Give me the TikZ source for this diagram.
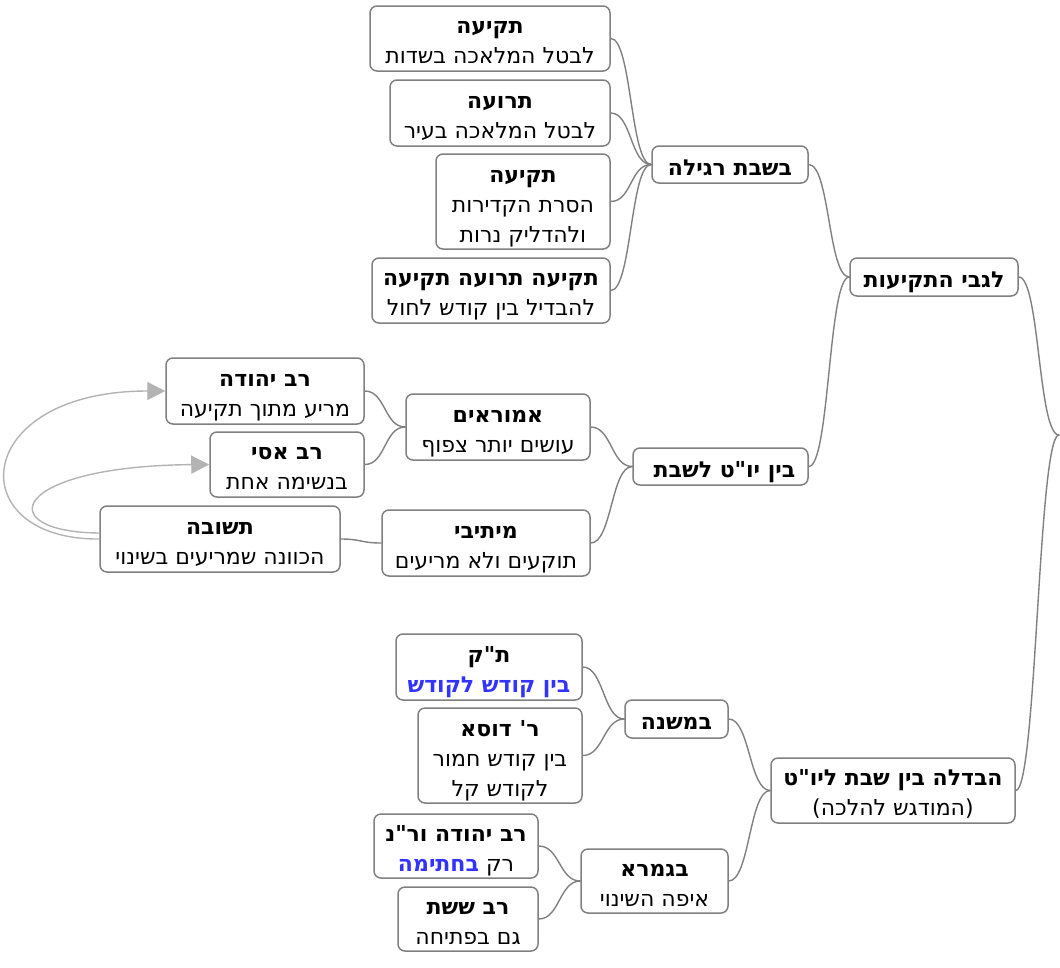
\documentclass[tikz,border=0pt]{standalone}
\usepackage{fontspec}
\newfontfamily\hebfont[Script=Hebrew,Ligatures=TeXOff]{DejaVu Sans}
\TeXXeTstate=1
\usetikzlibrary{arrows.meta}
\definecolor{linegray}{HTML}{808080}
\definecolor{backgray}{HTML}{B3B3B3}
\definecolor{textblue}{HTML}{3333FF}
\newcommand\rl[1]{\beginR#1\endR}
\newcommand\hd[1]{\textbf{\beginR#1\endR}}
\tikzset{
  topic/.style={draw=linegray, line width=1.5pt, rounded corners=7pt, fill=white,
    align=center, inner sep=0pt, font={\hebfont\fontsize{22}{30}\selectfont},
    text depth=0pt, text height=50pt},
  oneline/.style={text height=21pt},
  threeline/.style={text height=81pt},
  link/.style={draw=linegray, line width=1.4pt,
    to path={.. controls +(21,0) and +(-21,0) .. (\tikztotarget)}},
  backref/.style={draw=backgray, line width=1.4pt, -{Triangle[length=18pt,width=18pt]}}
}
\begin{document}
\begin{tikzpicture}[x=1pt,y=-1pt,line cap=round,line join=round]
  \useasboundingbox (0,0) rectangle (1060,967);
  % first branch
  \node[topic, minimum width=240, minimum height=65] (tqia) at (490,38.5) {\hd{תקיעה}\\\rl{לבטל המלאכה בשדות}};
  \node[topic, minimum width=220, minimum height=66] (trua) at (500,113) {\hd{תרועה}\\\rl{לבטל המלאכה בעיר}};
  \node[topic, threeline, minimum width=174, minimum height=95] (kdeirot) at (523,201.5) {\hd{תקיעה}\\\rl{הסרת הקדירות}\\\rl{ולהדליק נרות}};
  \node[topic, minimum width=238, minimum height=65] (lehavdil) at (491,290.5) {\hd{תקיעה תרועה תקיעה}\\\rl{להבדיל בין קודש לחול}};
  \node[topic, oneline, minimum width=156, minimum height=37] (regila) at (730,164.5) {\hd{בשבת רגילה}};
  \node[topic, oneline, minimum width=175, minimum height=37] (yomtov) at (720.5,466.5) {\hspace{8pt}\hd{בין יו"ט לשבת}};
  \node[topic, oneline, minimum width=168, minimum height=38] (tqiot) at (934,277) {\hd{לגבי התקיעות}};
  % amoraim
  \node[topic, minimum width=184, minimum height=66] (amoraim) at (498,427) {\hd{אמוראים}\\\rl{עושים יותר צפוף}};
  \node[topic, minimum width=208, minimum height=66] (meitivei) at (486,543) {\hd{מיתיבי}\\\rl{תוקעים ולא מריעים}};
  \node[topic, minimum width=198, minimum height=66] (ravyehuda) at (265,391) {\hd{רב יהודה}\\\rl{מריע מתוך תקיעה}};
  \node[topic, minimum width=154, minimum height=65] (ravasi) at (287,464.5) {\hd{רב אסי}\\\rl{בנשימה אחת}};
  \node[topic, minimum width=240, minimum height=66] (tshuva) at (220,539) {\hd{תשובה}\\\rl{הכוונה שמריעים בשינוי}};
  % havdala
  \node[topic, minimum width=244, minimum height=65] (havdala) at (893,790.5) {\hd{הבדלה בין שבת ליו"ט}\\\rl{(המודגש להלכה)}};
  \node[topic, oneline, minimum width=103, minimum height=38] (mishna) at (676.5,719) {\hd{במשנה}};
  \node[topic, minimum width=147, minimum height=64] (gemara) at (654.5,881) {\hd{בגמרא}\\\rl{איפה השינוי}};
  \node[topic, minimum width=186, minimum height=66] (tk) at (489,667) {\hd{ת"ק}\\{\color{textblue}\hd{בין קודש לקודש}}};
  \node[topic, threeline, minimum width=164, minimum height=95] (dosa) at (500,755.5) {\hd{ר' דוסא}\\\rl{בין קודש חמור}\\\rl{לקודש קל}};
  \node[topic, minimum width=164, minimum height=64] (ravnachman) at (456,846) {\hd{רב יהודה ור"נ}\\{\color{textblue}\hd{בחתימה}} \rl{רק}};
  \node[topic, minimum width=140, minimum height=64] (sheshet) at (468,919) {\hd{רב ששת}\\\rl{גם בפתיחה}};
  \coordinate (root) at (1059,435);

  % connectors
  \foreach \kid in {tqia,trua,kdeirot,lehavdil}
    \draw[link] (\kid.east) to (regila.west);
  \foreach \kid in {regila,yomtov}
    \draw[link] (\kid.east) to (tqiot.west);
  \foreach \kid in {amoraim,meitivei}
    \draw[link] (\kid.east) to (yomtov.west);
  \foreach \kid in {ravyehuda,ravasi}
    \draw[link] (\kid.east) to (amoraim.west);
  \draw[link] (tshuva.east) to (meitivei.west);
  \foreach \kid in {tk,dosa}
    \draw[link] (\kid.east) to (mishna.west);
  \foreach \kid in {ravnachman,sheshet}
    \draw[link] (\kid.east) to (gemara.west);
  \foreach \kid in {mishna,gemara}
    \draw[link] (\kid.east) to (havdala.west);
  \foreach \kid in {tqiot,havdala}
    \draw[link] (\kid.east) to (root);

  % back references
  \draw[backref] (tshuva.west) .. controls (-40,540) and (-30,391) .. (ravyehuda.west);
  \draw[backref] ([yshift=6pt]tshuva.west) .. controls (-10,532) and (10,466) .. (ravasi.west);
\end{tikzpicture}
\end{document}
